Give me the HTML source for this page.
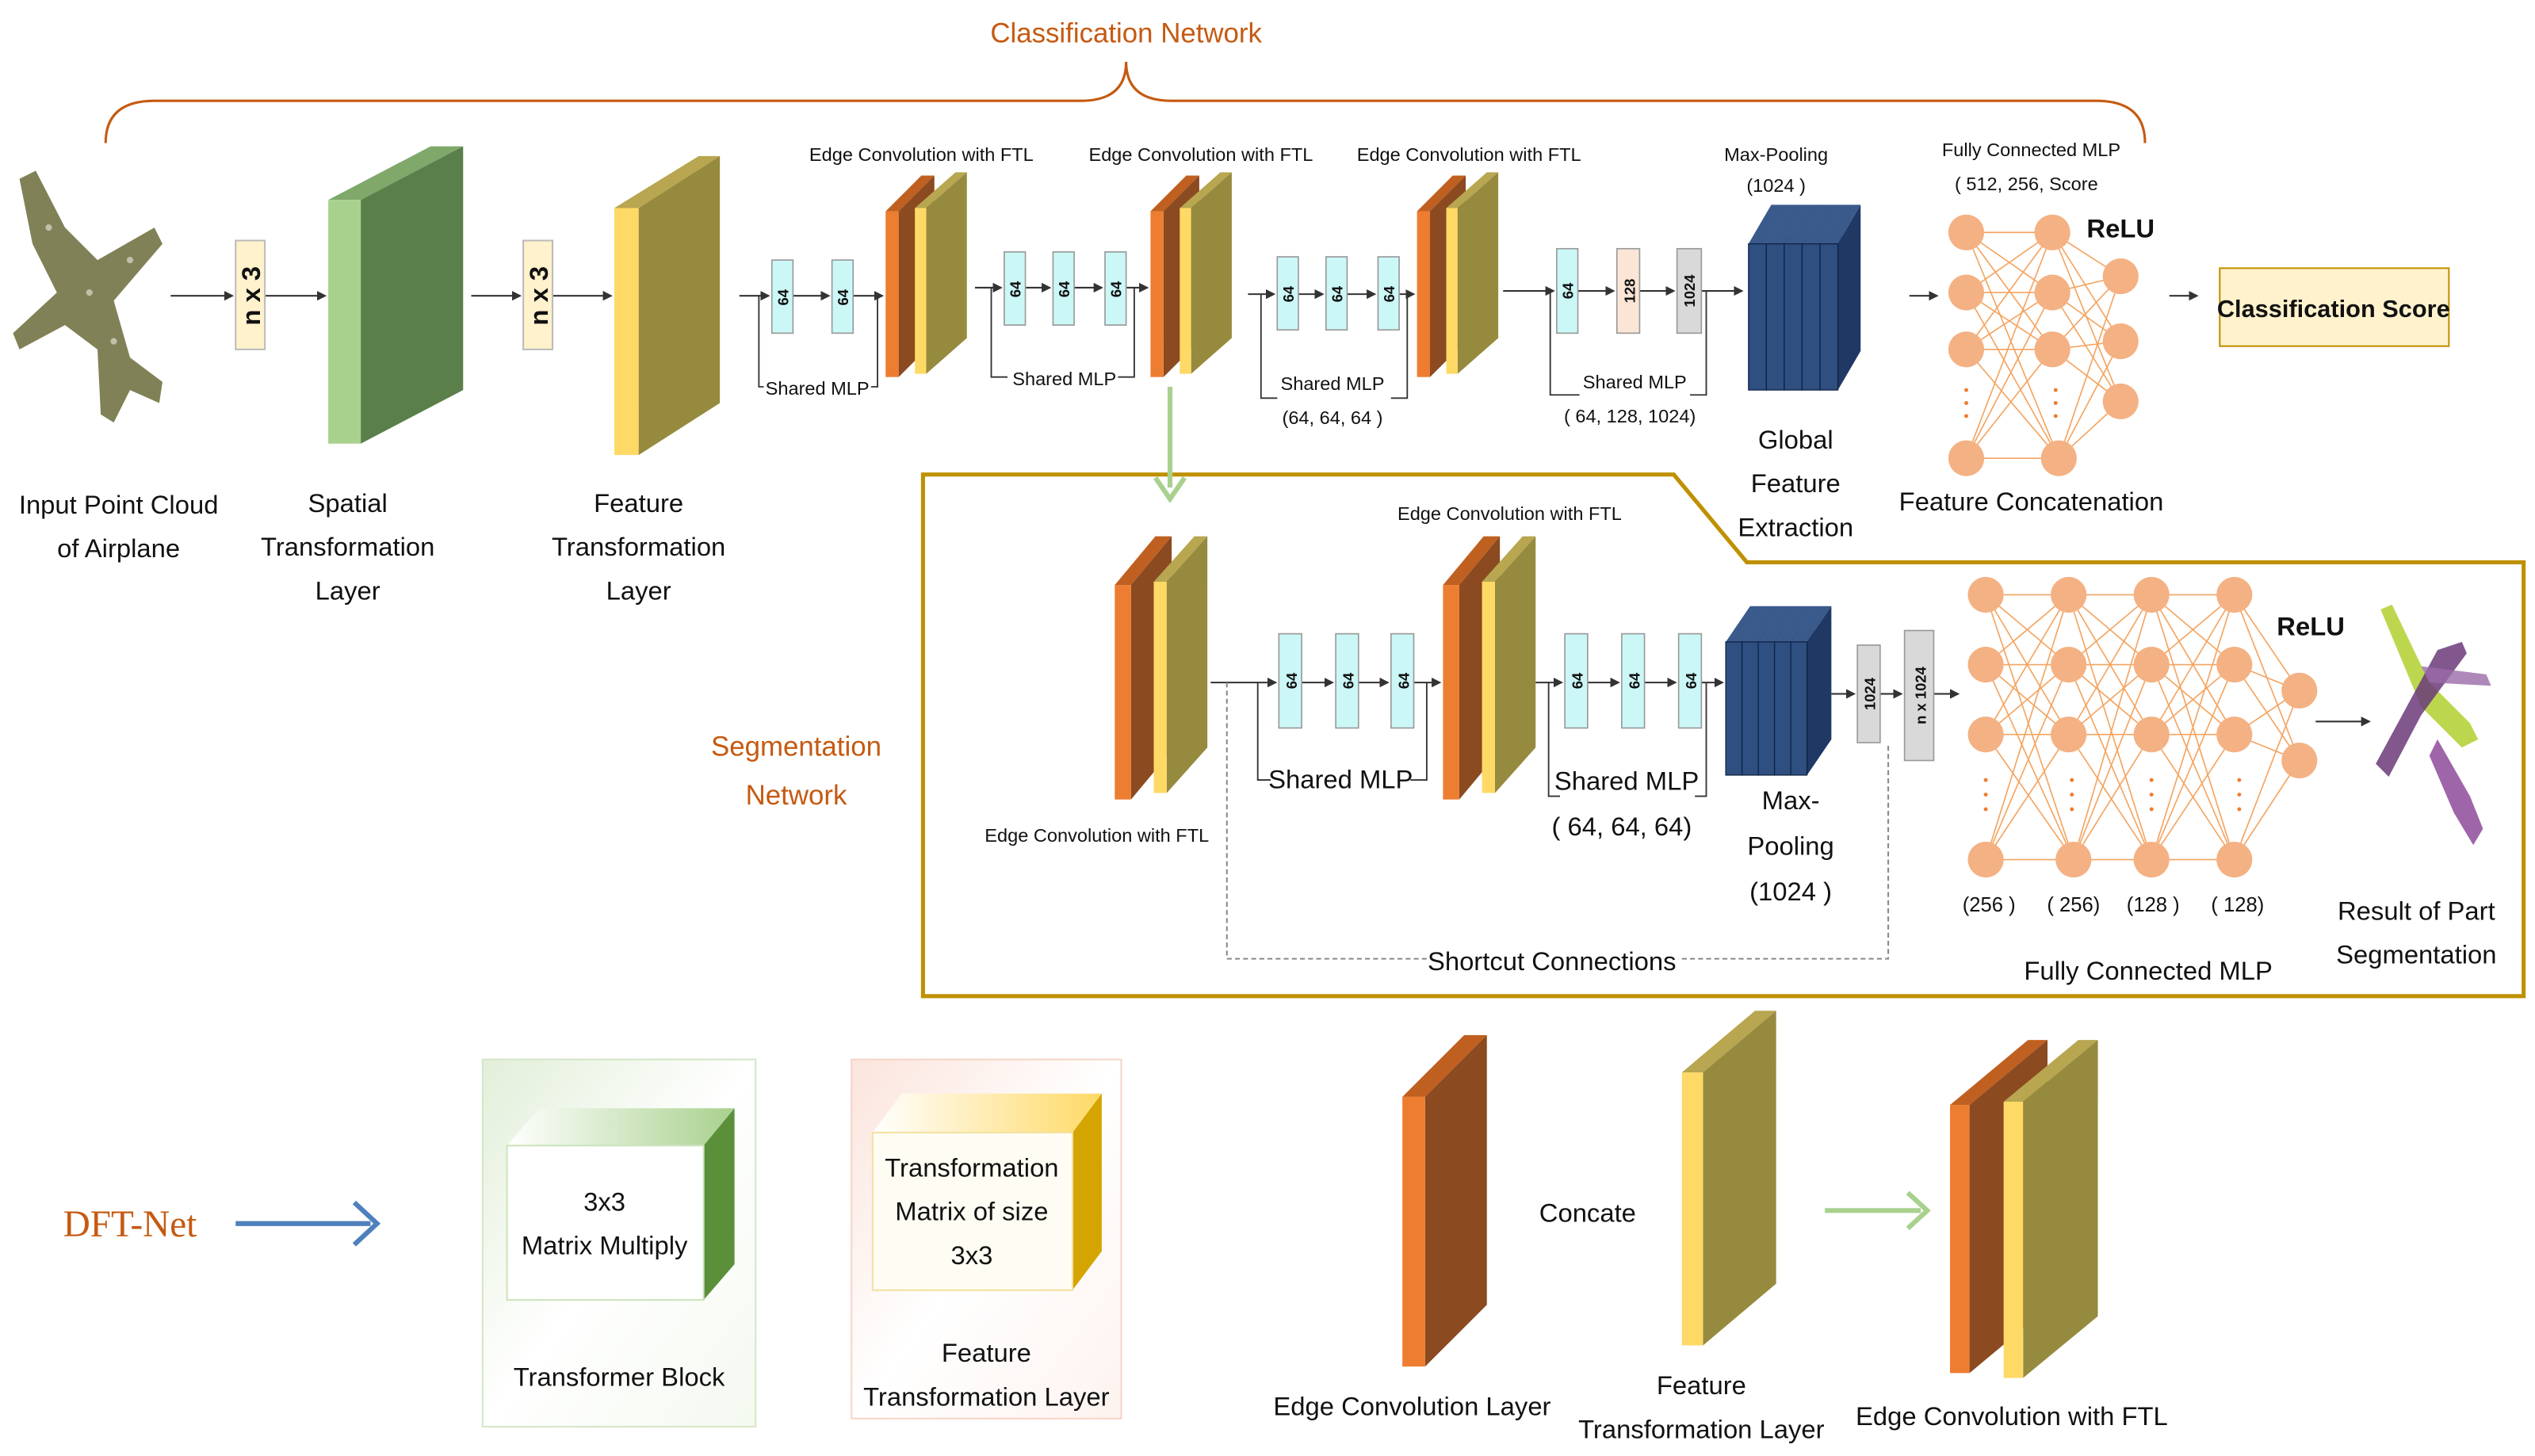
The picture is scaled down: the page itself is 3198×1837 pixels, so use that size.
<!DOCTYPE html>
<html><head><meta charset="utf-8">
<style>
html,body{margin:0;padding:0;background:#fff;}
svg{display:block;}
text{font-family:"Liberation Sans Narrow","Liberation Sans",sans-serif;fill:#111;}
.l{font-size:16px;}
.s{font-size:11.5px;}
.m{font-size:9px;font-weight:bold;}
</style></head><body>
<svg width="3198" height="1837" viewBox="0 0 1560 896" xmlns="http://www.w3.org/2000/svg">
<defs>
<marker id="a" markerWidth="6" markerHeight="6" refX="5" refY="3" orient="auto"><path d="M0,0 L6,3 L0,6 z" fill="#333"/></marker>
<linearGradient id="gg" x1="0" y1="0" x2="1" y2="1"><stop offset="0" stop-color="#e2efd9"/><stop offset="0.5" stop-color="#fff"/><stop offset="1" stop-color="#f4f9f0"/></linearGradient>
<linearGradient id="pg" x1="0" y1="0" x2="1" y2="1"><stop offset="0" stop-color="#fbe4dc"/><stop offset="0.5" stop-color="#fff"/><stop offset="1" stop-color="#fdf3ef"/></linearGradient>
<linearGradient id="gt" x1="0" y1="0" x2="1" y2="0"><stop offset="0" stop-color="#fff"/><stop offset="1" stop-color="#a9d18e"/></linearGradient>
<linearGradient id="yt" x1="0" y1="0" x2="1" y2="0"><stop offset="0" stop-color="#fff"/><stop offset="1" stop-color="#ffd966"/></linearGradient>
</defs>

<text x="693" y="26" text-anchor="middle" style="font-size:17px;fill:#c55a11">Classification Network</text>
<path d="M65,88 Q65,62 95,62 L665,62 Q693,62 693,38 Q693,62 721,62 L1290,62 Q1320,62 1320,88" fill="none" stroke="#c55a11" stroke-width="1.5"/>

<g fill="#6b6b3a" opacity="0.85">
<polygon points="12,110 22,105 40,140 60,160 95,140 100,150 70,185 80,220 100,235 98,248 80,240 70,260 62,255 60,215 40,200 12,215 8,205 35,180 20,150"/>
</g>
<g fill="#fff" opacity="0.5"><circle cx="30" cy="140" r="2"/><circle cx="55" cy="180" r="2"/><circle cx="70" cy="210" r="2"/><circle cx="80" cy="160" r="2"/></g>
<text class="l" x="73" y="316" text-anchor="middle">Input Point Cloud</text>
<text class="l" x="73" y="343" text-anchor="middle">of Airplane</text>

<g stroke="#333" stroke-width="1" fill="none">
<line x1="105" y1="182" x2="143" y2="182" marker-end="url(#a)"/>
<line x1="163" y1="182" x2="200" y2="182" marker-end="url(#a)"/>
<line x1="290" y1="182" x2="320" y2="182" marker-end="url(#a)"/>
<line x1="340" y1="182" x2="376" y2="182" marker-end="url(#a)"/>
<line x1="455" y1="182" x2="473" y2="182" marker-end="url(#a)"/>
<line x1="488" y1="182" x2="510" y2="182" marker-end="url(#a)"/>
<line x1="525" y1="182" x2="543" y2="182" marker-end="url(#a)"/>
<line x1="600" y1="177" x2="616" y2="177" marker-end="url(#a)"/>
<line x1="631" y1="177" x2="646" y2="177" marker-end="url(#a)"/>
<line x1="661" y1="177" x2="678" y2="177" marker-end="url(#a)"/>
<line x1="693" y1="177" x2="706" y2="177" marker-end="url(#a)"/>
<line x1="768" y1="181" x2="784" y2="181" marker-end="url(#a)"/>
<line x1="799" y1="181" x2="814" y2="181" marker-end="url(#a)"/>
<line x1="829" y1="181" x2="846" y2="181" marker-end="url(#a)"/>
<line x1="861" y1="181" x2="870" y2="181" marker-end="url(#a)"/>
<line x1="925" y1="179" x2="956" y2="179" marker-end="url(#a)"/>
<line x1="971" y1="179" x2="993" y2="179" marker-end="url(#a)"/>
<line x1="1009" y1="179" x2="1030" y2="179" marker-end="url(#a)"/>
<line x1="1047" y1="179" x2="1072" y2="179" marker-end="url(#a)"/>
<line x1="1175" y1="182" x2="1192" y2="182" marker-end="url(#a)"/>
<line x1="1335" y1="182" x2="1352" y2="182" marker-end="url(#a)"/>
<line x1="1425" y1="444" x2="1458" y2="444" marker-end="url(#a)"/>
<line x1="745" y1="420" x2="785" y2="420" marker-end="url(#a)"/>
<line x1="801" y1="420" x2="820" y2="420" marker-end="url(#a)"/>
<line x1="836" y1="420" x2="854" y2="420" marker-end="url(#a)"/>
<line x1="870" y1="420" x2="886" y2="420" marker-end="url(#a)"/>
<line x1="945" y1="420" x2="961" y2="420" marker-end="url(#a)"/>
<line x1="977" y1="420" x2="996" y2="420" marker-end="url(#a)"/>
<line x1="1012" y1="420" x2="1031" y2="420" marker-end="url(#a)"/>
<line x1="1047" y1="420" x2="1060" y2="420" marker-end="url(#a)"/>
<line x1="1127" y1="427" x2="1141" y2="427" marker-end="url(#a)"/>
<line x1="1157" y1="427" x2="1170" y2="427" marker-end="url(#a)"/>
<line x1="1190" y1="427" x2="1205" y2="427" marker-end="url(#a)"/>
</g>

<rect x="145" y="148" width="18" height="67" fill="#fff2cc" stroke="#bbb"/>
<text x="0" y="0" transform="translate(160,182) rotate(-90)" text-anchor="middle" style="font-size:16px;font-weight:bold">n x 3</text>
<rect x="322" y="148" width="18" height="67" fill="#fff2cc" stroke="#bbb"/>
<text x="0" y="0" transform="translate(337,182) rotate(-90)" text-anchor="middle" style="font-size:16px;font-weight:bold">n x 3</text>

<polygon points="202,123 265,90 285,90 222,123" fill="#7fa86a"/>
<polygon points="222,123 285,90 285,240 222,273" fill="#5b7f4a"/>
<rect x="202" y="123" width="20" height="150" fill="#a9d18e"/>
<text class="l" x="214" y="315" text-anchor="middle">Spatial</text>
<text class="l" x="214" y="342" text-anchor="middle">Transformation</text>
<text class="l" x="214" y="369" text-anchor="middle">Layer</text>

<polygon points="378,128 430,96 443,96 393,128" fill="#b8a650"/>
<polygon points="393,128 443,96 443,248 393,280" fill="#968a3e"/>
<rect x="378" y="128" width="15" height="152" fill="#ffd966"/>
<text class="l" x="393" y="315" text-anchor="middle">Feature</text>
<text class="l" x="393" y="342" text-anchor="middle">Transformation</text>
<text class="l" x="393" y="369" text-anchor="middle">Layer</text>

<g id="ec">
<polygon points="545,130 567,108 575,108 553,130" fill="#c06020"/>
<polygon points="553,130 575,108 575,210 553,232" fill="#8b4a20"/>
<rect x="545" y="130" width="8" height="102" fill="#ed7d31"/>
<polygon points="563,128 588,106 595,106 570,128" fill="#b8a650"/>
<polygon points="570,128 595,106 595,208 570,230" fill="#968a3e"/>
<rect x="563" y="128" width="7" height="102" fill="#ffd966"/>
</g>
<use href="#ec" x="163"/>
<use href="#ec" x="327"/>
<text class="s" x="567" y="99" text-anchor="middle">Edge Convolution with FTL</text>
<text class="s" x="739" y="99" text-anchor="middle">Edge Convolution with FTL</text>
<text class="s" x="904" y="99" text-anchor="middle">Edge Convolution with FTL</text>

<g stroke="#999" stroke-width="0.8" fill="#ccf7f7">
<rect x="475" y="160" width="13" height="45"/><rect x="512" y="160" width="13" height="45"/>
<rect x="618" y="155" width="13" height="45"/><rect x="648" y="155" width="13" height="45"/><rect x="680" y="155" width="13" height="45"/>
<rect x="786" y="158" width="13" height="45"/><rect x="816" y="158" width="13" height="45"/><rect x="848" y="158" width="13" height="45"/>
<rect x="958" y="153" width="13" height="52"/>
<rect x="995" y="153" width="14" height="52" fill="#fbe5d6"/>
<rect x="1032" y="153" width="15" height="52" fill="#d9d9d9"/>
</g>
<text class="m" transform="translate(485,183) rotate(-90)" text-anchor="middle">64</text>
<text class="m" transform="translate(522,183) rotate(-90)" text-anchor="middle">64</text>
<text class="m" transform="translate(628,178) rotate(-90)" text-anchor="middle">64</text>
<text class="m" transform="translate(658,178) rotate(-90)" text-anchor="middle">64</text>
<text class="m" transform="translate(690,178) rotate(-90)" text-anchor="middle">64</text>
<text class="m" transform="translate(796,181) rotate(-90)" text-anchor="middle">64</text>
<text class="m" transform="translate(826,181) rotate(-90)" text-anchor="middle">64</text>
<text class="m" transform="translate(858,181) rotate(-90)" text-anchor="middle">64</text>
<text class="m" transform="translate(968,179) rotate(-90)" text-anchor="middle">64</text>
<text class="m" transform="translate(1006,179) rotate(-90)" text-anchor="middle">128</text>
<text class="m" transform="translate(1043,179) rotate(-90)" text-anchor="middle">1024</text>
<g stroke="#333" fill="none" stroke-width="0.9">
<polyline points="467,182 467,238 470,238"/><polyline points="536,238 540,238 540,182"/>
<polyline points="610,177 610,232 620,232"/><polyline points="688,232 698,232 698,177"/>
<polyline points="776,181 776,245 786,245"/><polyline points="856,245 866,245 866,181"/>
<polyline points="954,179 954,243 972,243"/><polyline points="1040,243 1050,243 1050,179"/>
</g>
<text class="s" x="503" y="243" text-anchor="middle">Shared MLP</text>
<text class="s" x="655" y="237" text-anchor="middle">Shared MLP</text>
<text class="s" x="820" y="240" text-anchor="middle">Shared MLP</text>
<text class="s" x="820" y="261" text-anchor="middle">(64, 64, 64 )</text>
<text class="s" x="1006" y="239" text-anchor="middle">Shared MLP</text>
<text class="s" x="1003" y="260" text-anchor="middle">( 64, 128, 1024)</text>

<g id="mp">
<polygon points="1076,150 1090,126 1101,126 1087,150" fill="#3a5a8c"/>
<polygon points="1087,150 1101,126 1101,216 1087,240" fill="#1f3864"/>
<rect x="1076" y="150" width="11" height="90" fill="#2e4f80" stroke="#0e2040" stroke-width="0.6"/>
</g>
<use href="#mp" x="11"/><use href="#mp" x="22"/><use href="#mp" x="33"/><use href="#mp" x="44"/>
<text class="s" x="1093" y="99" text-anchor="middle">Max-Pooling</text>
<text class="s" x="1093" y="118" text-anchor="middle">(1024 )</text>
<text class="l" x="1105" y="276" text-anchor="middle">Global</text>
<text class="l" x="1105" y="303" text-anchor="middle">Feature</text>
<text class="l" x="1105" y="330" text-anchor="middle">Extraction</text>

<g stroke="#f4a460" stroke-width="0.8">
<path d="M1210,143L1263,143M1210,143L1263,180M1210,143L1263,215M1210,143L1267,282M1210,180L1263,143M1210,180L1263,180M1210,180L1263,215M1210,180L1267,282M1210,215L1263,143M1210,215L1263,180M1210,215L1263,215M1210,215L1267,282M1210,282L1263,143M1210,282L1263,180M1210,282L1263,215M1210,282L1267,282"/>
<path d="M1263,143L1305,170M1263,143L1305,210M1263,143L1305,247M1263,180L1305,170M1263,180L1305,210M1263,180L1305,247M1263,215L1305,170M1263,215L1305,210M1263,215L1305,247M1267,282L1305,170M1267,282L1305,210M1267,282L1305,247"/>
</g>
<g fill="#f4b183">
<circle cx="1210" cy="143" r="11"/><circle cx="1210" cy="180" r="11"/><circle cx="1210" cy="215" r="11"/><circle cx="1210" cy="282" r="11"/>
<circle cx="1263" cy="143" r="11"/><circle cx="1263" cy="180" r="11"/><circle cx="1263" cy="215" r="11"/><circle cx="1267" cy="282" r="11"/>
<circle cx="1305" cy="170" r="11"/><circle cx="1305" cy="210" r="11"/><circle cx="1305" cy="247" r="11"/>
</g>
<g fill="#ed7d31"><circle cx="1210" cy="240" r="1.2"/><circle cx="1210" cy="248" r="1.2"/><circle cx="1210" cy="256" r="1.2"/><circle cx="1265" cy="240" r="1.2"/><circle cx="1265" cy="248" r="1.2"/><circle cx="1265" cy="256" r="1.2"/></g>
<text class="s" x="1250" y="96" text-anchor="middle">Fully Connected MLP</text>
<text class="s" x="1247" y="117" text-anchor="middle">( 512, 256, Score</text>
<text x="1305" y="146" text-anchor="middle" style="font-size:16px;font-weight:bold">ReLU</text>
<text class="l" x="1250" y="314" text-anchor="middle">Feature Concatenation</text>
<rect x="1366" y="165" width="141" height="48" fill="#fff2cc" stroke="#bf9000" stroke-width="1"/>
<text x="1436" y="195" text-anchor="middle" style="font-size:15px;font-weight:bold">Classification Score</text>

<polygon points="568,292 1030,292 1075,346 1553,346 1553,613 568,613" fill="none" stroke="#bf9000" stroke-width="2.5"/>
<line x1="720" y1="238" x2="720" y2="300" stroke="#a9d18e" stroke-width="3"/>
<path d="M711,294 L720,307 L729,294" fill="none" stroke="#a9d18e" stroke-width="3"/>
<text x="490" y="465" text-anchor="middle" style="font-size:17px;fill:#c55a11">Segmentation</text>
<text x="490" y="495" text-anchor="middle" style="font-size:17px;fill:#c55a11">Network</text>

<g id="sec">
<polygon points="686,360 711,330 721,330 696,360" fill="#c06020"/>
<polygon points="696,360 721,330 721,462 696,492" fill="#8b4a20"/>
<rect x="686" y="360" width="10" height="132" fill="#ed7d31"/>
<polygon points="710,358 735,330 743,330 718,358" fill="#b8a650"/>
<polygon points="718,358 743,330 743,460 718,488" fill="#968a3e"/>
<rect x="710" y="358" width="8" height="130" fill="#ffd966"/>
</g>
<use href="#sec" x="202"/>
<text class="s" x="675" y="518" text-anchor="middle">Edge Convolution with FTL</text>
<text class="s" x="929" y="320" text-anchor="middle">Edge Convolution with FTL</text>

<g stroke="#999" stroke-width="0.8" fill="#ccf7f7">
<rect x="787" y="390" width="14" height="58"/><rect x="822" y="390" width="14" height="58"/><rect x="856" y="390" width="14" height="58"/>
<rect x="963" y="390" width="14" height="58"/><rect x="998" y="390" width="14" height="58"/><rect x="1033" y="390" width="14" height="58"/>
<rect x="1143" y="397" width="14" height="60" fill="#d9d9d9"/>
<rect x="1172" y="388" width="18" height="80" fill="#d9d9d9"/>
</g>
<text class="m" transform="translate(798,419) rotate(-90)" text-anchor="middle">64</text>
<text class="m" transform="translate(833,419) rotate(-90)" text-anchor="middle">64</text>
<text class="m" transform="translate(867,419) rotate(-90)" text-anchor="middle">64</text>
<text class="m" transform="translate(974,419) rotate(-90)" text-anchor="middle">64</text>
<text class="m" transform="translate(1009,419) rotate(-90)" text-anchor="middle">64</text>
<text class="m" transform="translate(1044,419) rotate(-90)" text-anchor="middle">64</text>
<text class="m" transform="translate(1154,427) rotate(-90)" text-anchor="middle">1024</text>
<text class="m" transform="translate(1185,428) rotate(-90)" text-anchor="middle">n x 1024</text>
<g stroke="#333" fill="none" stroke-width="0.9">
<polyline points="774,420 774,480 782,480"/><polyline points="868,480 878,480 878,420"/>
<polyline points="953,420 953,490 960,490"/><polyline points="1043,490 1050,490 1050,420"/>
</g>
<text class="l" x="825" y="485" text-anchor="middle">Shared MLP</text>
<text class="l" x="1001" y="486" text-anchor="middle">Shared MLP</text>
<text class="l" x="998" y="514" text-anchor="middle">( 64, 64, 64)</text>

<g id="smp">
<polygon points="1062,395 1077,373 1087,373 1072,395" fill="#3a5a8c"/>
<polygon points="1072,395 1087,373 1087,455 1072,477" fill="#1f3864"/>
<rect x="1062" y="395" width="10" height="82" fill="#2e4f80" stroke="#0e2040" stroke-width="0.6"/>
</g>
<use href="#smp" x="10"/><use href="#smp" x="20"/><use href="#smp" x="30"/><use href="#smp" x="40"/>
<text class="l" x="1102" y="498" text-anchor="middle">Max-</text>
<text class="l" x="1102" y="526" text-anchor="middle">Pooling</text>
<text class="l" x="1102" y="554" text-anchor="middle">(1024 )</text>

<polyline points="755,420 755,590 1162,590 1162,458" fill="none" stroke="#888" stroke-width="1" stroke-dasharray="3,2"/>
<rect x="878" y="580" width="155" height="20" fill="#fff"/>
<text class="l" x="955" y="597" text-anchor="middle">Shortcut Connections</text>

<g stroke="#f4a460" stroke-width="0.8" fill="none">
<path d="M1222,366L1273,366M1222,366L1273,409M1222,366L1273,452M1222,366L1276,529M1222,409L1273,366M1222,409L1273,409M1222,409L1273,452M1222,409L1276,529M1222,452L1273,366M1222,452L1273,409M1222,452L1273,452M1222,452L1276,529M1222,529L1273,366M1222,529L1273,409M1222,529L1273,452M1222,529L1276,529"/>
<path d="M1273,366L1324,366M1273,366L1324,409M1273,366L1324,452M1273,366L1324,529M1273,409L1324,366M1273,409L1324,409M1273,409L1324,452M1273,409L1324,529M1273,452L1324,366M1273,452L1324,409M1273,452L1324,452M1273,452L1324,529M1276,529L1324,366M1276,529L1324,409M1276,529L1324,452M1276,529L1324,529"/>
<path d="M1324,366L1375,366M1324,366L1375,409M1324,366L1375,452M1324,366L1375,529M1324,409L1375,366M1324,409L1375,409M1324,409L1375,452M1324,409L1375,529M1324,452L1375,366M1324,452L1375,409M1324,452L1375,452M1324,452L1375,529M1324,529L1375,366M1324,529L1375,409M1324,529L1375,452M1324,529L1375,529"/>
<path d="M1375,366L1415,425M1375,366L1415,468M1375,409L1415,425M1375,409L1415,468M1375,452L1415,425M1375,452L1415,468M1375,529L1415,425M1375,529L1415,468"/>
</g>
<g fill="#f4b183">
<circle cx="1222" cy="366" r="11"/><circle cx="1222" cy="409" r="11"/><circle cx="1222" cy="452" r="11"/><circle cx="1222" cy="529" r="11"/>
<circle cx="1273" cy="366" r="11"/><circle cx="1273" cy="409" r="11"/><circle cx="1273" cy="452" r="11"/><circle cx="1276" cy="529" r="11"/>
<circle cx="1324" cy="366" r="11"/><circle cx="1324" cy="409" r="11"/><circle cx="1324" cy="452" r="11"/><circle cx="1324" cy="529" r="11"/>
<circle cx="1375" cy="366" r="11"/><circle cx="1375" cy="409" r="11"/><circle cx="1375" cy="452" r="11"/><circle cx="1375" cy="529" r="11"/>
<circle cx="1415" cy="425" r="11"/><circle cx="1415" cy="468" r="11"/>
</g>
<g fill="#ed7d31"><circle cx="1222" cy="480" r="1.2"/><circle cx="1222" cy="489" r="1.2"/><circle cx="1222" cy="498" r="1.2"/><circle cx="1275" cy="480" r="1.2"/><circle cx="1275" cy="489" r="1.2"/><circle cx="1275" cy="498" r="1.2"/><circle cx="1324" cy="480" r="1.2"/><circle cx="1324" cy="489" r="1.2"/><circle cx="1324" cy="498" r="1.2"/><circle cx="1378" cy="480" r="1.2"/><circle cx="1378" cy="489" r="1.2"/><circle cx="1378" cy="498" r="1.2"/></g>
<text x="1422" y="391" text-anchor="middle" style="font-size:16px;font-weight:bold">ReLU</text>
<text x="1224" y="561" text-anchor="middle" style="font-size:12.5px">(256 )</text>
<text x="1276" y="561" text-anchor="middle" style="font-size:12.5px">( 256)</text>
<text x="1325" y="561" text-anchor="middle" style="font-size:12.5px">(128 )</text>
<text x="1377" y="561" text-anchor="middle" style="font-size:12.5px">( 128)</text>
<text class="l" x="1322" y="603" text-anchor="middle">Fully Connected MLP</text>

<polygon points="1465,375 1472,372 1495,420 1520,445 1525,455 1515,460 1500,445 1490,435" fill="#b5d33a" opacity="0.9"/>
<polygon points="1462,470 1500,400 1515,395 1518,402 1490,440 1470,478" fill="#6b3a7a" opacity="0.85"/>
<polygon points="1495,465 1500,455 1520,490 1528,510 1522,520 1510,500" fill="#8e4a9a" opacity="0.85"/>
<polygon points="1490,410 1530,415 1533,422 1495,420" fill="#9a6aa8" opacity="0.8"/>
<text class="l" x="1487" y="566" text-anchor="middle">Result of Part</text>
<text class="l" x="1487" y="593" text-anchor="middle">Segmentation</text>

<text x="80" y="761" text-anchor="middle" style="font-family:'Liberation Serif',serif;font-size:23px;fill:#c55a11">DFT-Net</text>
<line x1="145" y1="753" x2="228" y2="753" stroke="#4f81bd" stroke-width="3"/>
<path d="M218,740 L232,753 L218,766" fill="none" stroke="#4f81bd" stroke-width="3"/>

<rect x="297" y="652" width="168" height="226" fill="url(#gg)" stroke="#d5e6c8"/>
<polygon points="312,705 332,682 452,682 433,705" fill="url(#gt)"/>
<polygon points="433,705 452,682 452,778 433,800" fill="#5b8f3a"/>
<rect x="312" y="705" width="121" height="95" fill="#fff" stroke="#cde3bd"/>
<text class="l" x="372" y="745" text-anchor="middle">3x3</text>
<text class="l" x="372" y="772" text-anchor="middle">Matrix Multiply</text>
<text class="l" x="381" y="853" text-anchor="middle">Transformer Block</text>

<rect x="524" y="652" width="166" height="221" fill="url(#pg)" stroke="#f6d5c8"/>
<polygon points="537,697 555,673 678,673 660,697" fill="url(#yt)"/>
<polygon points="660,697 678,673 678,770 660,794" fill="#d4a500"/>
<rect x="537" y="697" width="123" height="97" fill="#fffdf3" stroke="#f3e1a0"/>
<text class="l" x="598" y="724" text-anchor="middle">Transformation</text>
<text class="l" x="598" y="751" text-anchor="middle">Matrix of size</text>
<text class="l" x="598" y="778" text-anchor="middle">3x3</text>
<text class="l" x="607" y="838" text-anchor="middle">Feature</text>
<text class="l" x="607" y="865" text-anchor="middle">Transformation Layer</text>

<polygon points="863,675 901,637 915,637 877,675" fill="#c06020"/>
<polygon points="877,675 915,637 915,803 877,841" fill="#8b4a20"/>
<rect x="863" y="675" width="14" height="166" fill="#ed7d31"/>
<text class="l" x="869" y="871" text-anchor="middle">Edge Convolution Layer</text>
<text class="l" x="977" y="752" text-anchor="middle">Concate</text>

<polygon points="1035,660 1080,622 1093,622 1048,660" fill="#b8a650"/>
<polygon points="1048,660 1093,622 1093,790 1048,828" fill="#968a3e"/>
<rect x="1035" y="660" width="13" height="168" fill="#ffd966"/>
<text class="l" x="1047" y="858" text-anchor="middle">Feature</text>
<text class="l" x="1047" y="885" text-anchor="middle">Transformation Layer</text>

<line x1="1123" y1="745" x2="1182" y2="745" stroke="#a9d18e" stroke-width="3"/>
<path d="M1174,734 L1186,745 L1174,756" fill="none" stroke="#a9d18e" stroke-width="3"/>

<polygon points="1200,680 1248,640 1260,640 1212,680" fill="#c06020"/>
<polygon points="1212,680 1260,640 1260,805 1212,845" fill="#8b4a20"/>
<rect x="1200" y="680" width="12" height="165" fill="#ed7d31"/>
<polygon points="1233,678 1279,640 1291,640 1245,678" fill="#b8a650"/>
<polygon points="1245,678 1291,640 1291,810 1245,848" fill="#968a3e"/>
<rect x="1233" y="678" width="12" height="170" fill="#ffd966"/>
<text class="l" x="1238" y="877" text-anchor="middle">Edge Convolution with FTL</text>
</svg>
</body></html>
